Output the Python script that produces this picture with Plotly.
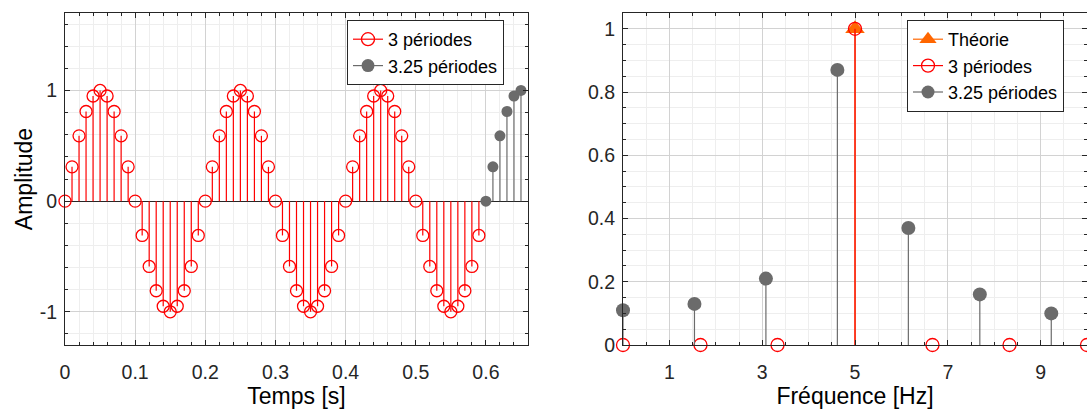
import plotly.graph_objects as go

# ---------------- data ----------------
t_3per = [0.00, 0.01, 0.02, 0.03, 0.04, 0.05, 0.06, 0.07, 0.08, 0.09,
          0.10, 0.11, 0.12, 0.13, 0.14, 0.15, 0.16, 0.17, 0.18, 0.19,
          0.20, 0.21, 0.22, 0.23, 0.24, 0.25, 0.26, 0.27, 0.28, 0.29,
          0.30, 0.31, 0.32, 0.33, 0.34, 0.35, 0.36, 0.37, 0.38, 0.39,
          0.40, 0.41, 0.42, 0.43, 0.44, 0.45, 0.46, 0.47, 0.48, 0.49,
          0.50, 0.51, 0.52, 0.53, 0.54, 0.55, 0.56, 0.57, 0.58, 0.59]
y_3per = [0.00, 0.31, 0.59, 0.81, 0.95, 1.00, 0.95, 0.81, 0.59, 0.31,
          0.00, -0.31, -0.59, -0.81, -0.95, -1.00, -0.95, -0.81, -0.59, -0.31,
          0.00, 0.31, 0.59, 0.81, 0.95, 1.00, 0.95, 0.81, 0.59, 0.31,
          0.00, -0.31, -0.59, -0.81, -0.95, -1.00, -0.95, -0.81, -0.59, -0.31,
          0.00, 0.31, 0.59, 0.81, 0.95, 1.00, 0.95, 0.81, 0.59, 0.31,
          0.00, -0.31, -0.59, -0.81, -0.95, -1.00, -0.95, -0.81, -0.59, -0.31]
t_325per = [0.60, 0.61, 0.62, 0.63, 0.64, 0.65]
y_325per = [0.00, 0.31, 0.59, 0.81, 0.95, 1.00]

f_theorie = [5.0]
a_theorie = [1.0]
f_3per = [0.00, 1.67, 3.33, 5.00, 6.67, 8.33, 10.00]
a_3per = [0.00, 0.00, 0.00, 1.00, 0.00, 0.00, 0.00]
f_325per = [0.00, 1.54, 3.08, 4.62, 6.15, 7.69, 9.23]
a_325per = [0.11, 0.13, 0.21, 0.87, 0.37, 0.16, 0.10]

time_ticks = [0, 0.1, 0.2, 0.3, 0.4, 0.5, 0.6]
amp_ticks = [-1, 0, 1]
amp_ticklabels = ["-1", "0", "1"]
freq_ticks = [1, 3, 5, 7, 9]
mag_ticks = [0, 0.2, 0.4, 0.6, 0.8, 1]

# ---------------- styles ----------------
RED = "#ff0000"
GRAY = "#6b6b6b"
ORANGE = "#ff6600"
AXC = "#262626"
FONT = "Liberation Sans"
W, H = 1087, 410


def stem_xy(xs, ys, base=0.0):
    X, Y = [], []
    for x, y in zip(xs, ys):
        X += [x, x, None]
        Y += [base, y, None]
    return X, Y


fig = go.Figure()


def add_stem(xs, ys, color, symbol, size, name, xa, ya, legend, lw=1.2, mlw=1.3, lsize=13):
    sx, sy = stem_xy(xs, ys)
    fig.add_trace(go.Scatter(x=sx, y=sy, mode="lines", line=dict(color=color, width=lw),
                             hoverinfo="skip", showlegend=False, xaxis=xa, yaxis=ya))
    fig.add_trace(go.Scatter(x=xs, y=ys, mode="markers", cliponaxis=False,
                             marker=dict(symbol=symbol, size=size, color=color,
                                         line=dict(color=color, width=mlw)),
                             showlegend=False, xaxis=xa, yaxis=ya, name=name))
    # legend entry (line + marker)
    fig.add_trace(go.Scatter(x=[None], y=[None], mode="lines+markers", name=name,
                             line=dict(color=color, width=1.2),
                             marker=dict(symbol=symbol, size=lsize, color=color,
                                         line=dict(color=color, width=mlw)),
                             xaxis=xa, yaxis=ya, legend=legend))


# left panel
add_stem(t_3per, y_3per, RED, "circle-open", 12, "3 périodes", "x", "y", "legend")
add_stem(t_325per, y_325per, GRAY, "circle", 11, "3.25 périodes", "x", "y", "legend", mlw=0)

# right panel
add_stem(f_theorie, a_theorie, ORANGE, "triangle-up", 17, "Théorie", "x2", "y2", "legend2",
         mlw=0, lsize=15)
add_stem(f_3per, a_3per, RED, "circle-open", 13, "3 périodes", "x2", "y2", "legend2")
add_stem(f_325per, a_325per, GRAY, "circle", 14, "3.25 périodes", "x2", "y2", "legend2", mlw=0)

common = dict(showline=True, linecolor=AXC, linewidth=1, mirror="ticks",
              ticks="inside", ticklen=5, tickcolor=AXC, tickwidth=1,
              showgrid=True, gridcolor="#d2d2d2", gridwidth=1, zeroline=False,
              tickfont=dict(family=FONT, size=19.5, color=AXC),
              automargin=False, title_font=dict(family=FONT, size=23, color="#000000"))

ML, MR, MT, MB = 0, 0, 13, 65
PH = H - MT - MB
legend_style = dict(xanchor="left", yanchor="top", bgcolor="white", bordercolor=AXC,
                    borderwidth=1, font=dict(family=FONT, size=18, color="#000000"),
                    tracegroupgap=0)
fig.update_layout(
    width=W, height=H,
    margin=dict(l=ML, r=MR, t=MT, b=MB),
    paper_bgcolor="white", plot_bgcolor="white",
    font=dict(family=FONT, color=AXC),
    xaxis=dict(common, domain=[65 / W, 528 / W], range=[0, 0.66],
               tickmode="array", tickvals=time_ticks, ticklabelstandoff=10,
               minor=dict(tickmode="linear", tick0=0, dtick=0.02, ticks="inside", ticklen=3,
                          tickcolor=AXC, showgrid=True, gridcolor="#eeeeee"),
               title=dict(text="Temps [s]", standoff=4), anchor="y"),
    yaxis=dict(common, domain=[0, 1], range=[-1.3, 1.7],
               tickmode="array", tickvals=amp_ticks, ticktext=amp_ticklabels,
               ticklabelstandoff=3,
               zeroline=True, zerolinecolor=AXC, zerolinewidth=1,
               minor=dict(tickmode="linear", tick0=0, dtick=0.2, ticks="inside", ticklen=3,
                          tickcolor=AXC, showgrid=True, gridcolor="#eeeeee"),
               title=dict(text="Amplitude", standoff=0), anchor="x"),
    xaxis2=dict(common, domain=[623 / W, 1.0], range=[0, 10],
                tickmode="array", tickvals=freq_ticks, ticklabelstandoff=10,
                minor=dict(tickmode="linear", tick0=0, dtick=0.5, ticks="inside", ticklen=3,
                           tickcolor=AXC, showgrid=True, gridcolor="#eeeeee"),
                title=dict(text="Fréquence [Hz]", standoff=4), anchor="y2"),
    yaxis2=dict(common, domain=[0, 1], range=[0, 1.05],
                tickmode="array", tickvals=mag_ticks, ticklabelstandoff=3,
                minor=dict(tickmode="linear", tick0=0, dtick=0.05, ticks="inside", ticklen=3,
                           tickcolor=AXC, showgrid=True, gridcolor="#eeeeee"),
                anchor="x2"),
    legend=dict(legend_style, x=347 / W, y=1 - (20 - MT) / PH),
    legend2=dict(legend_style, x=907 / W, y=1 - (20 - MT) / PH),
    showlegend=True,
)

fig.write_html("out.html", config={"displayModeBar": False},
               post_script="document.body.style.margin='0px';document.body.style.overflow='hidden';")
